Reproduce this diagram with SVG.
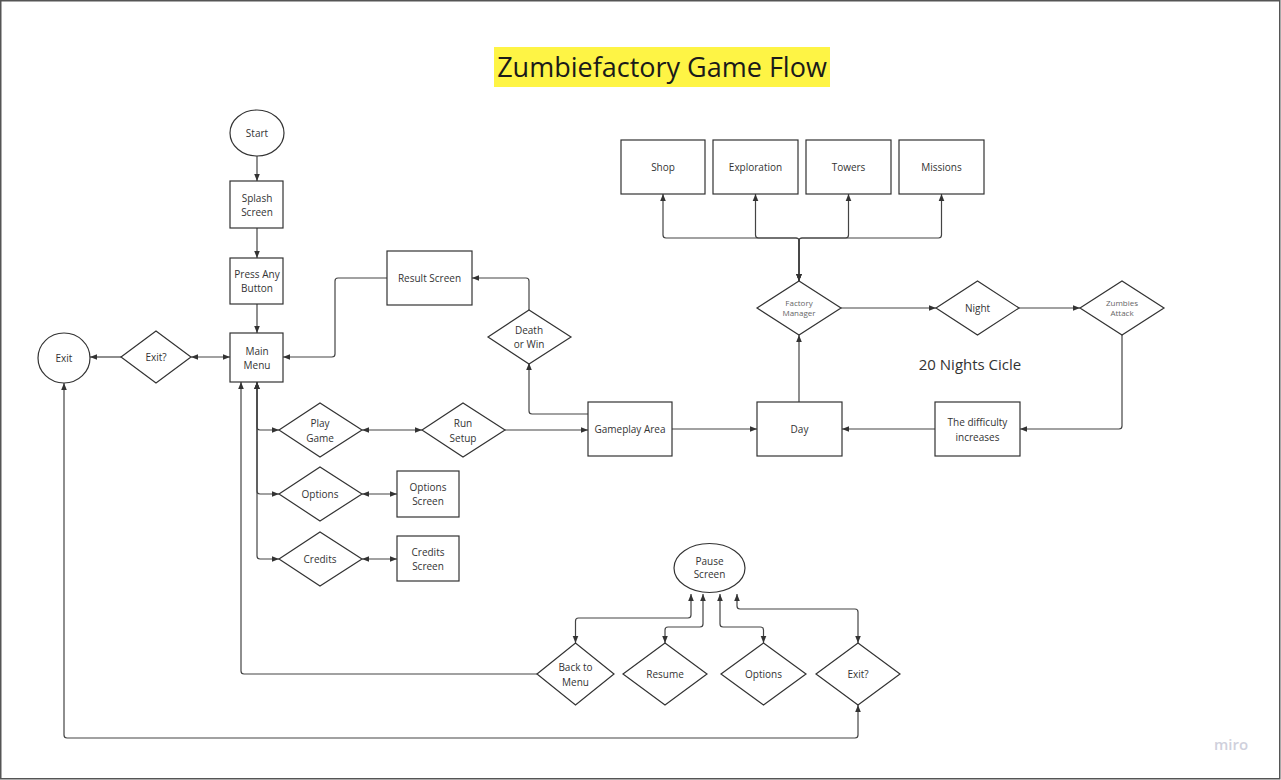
<svg xmlns="http://www.w3.org/2000/svg" width="1281" height="780" viewBox="0 0 1281 780">
<style>
.n{fill:#fff;stroke:#333;stroke-width:1.2}
.t{font-family:"Open Sans","Liberation Sans",sans-serif;font-size:10px;fill:#333;text-anchor:middle}
.s{font-family:"Open Sans","Liberation Sans",sans-serif;font-size:8px;fill:#666;text-anchor:middle}
.c path{fill:none;stroke:#444;stroke-width:1.2}
.e{marker-end:url(#ah)}
.b{marker-start:url(#ah);marker-end:url(#ah)}
</style>
<defs>
<marker id="ah" viewBox="0 0 10 10" refX="10" refY="5" markerWidth="7" markerHeight="7" markerUnits="userSpaceOnUse" orient="auto-start-reverse"><path d="M0,1 L10,5 L0,9 z" fill="#333"/></marker>
</defs>
<rect x="0" y="0" width="1281" height="780" fill="#fff"/>
<rect x="0.75" y="0.75" width="1279" height="778" fill="none" stroke="#555" stroke-width="1.5"/>
<g id="title">
<rect x="494" y="47" width="336" height="40" fill="#fef445"/>
<text x="662" y="77" font-family="'Open Sans','Liberation Sans',sans-serif" font-size="27" fill="#1a1a1a" text-anchor="middle">Zumbiefactory Game Flow</text>
</g>
<g class="c" id="connectors">
<path class="e" d="M257,156 L257,181"/>
<path class="e" d="M257,228 L257,258"/>
<path class="e" d="M257,304 L257,333"/>
<path class="e" d="M121,357 L90,357"/>
<path class="b" d="M191,357 L230,357"/>
<path class="e" d="M387,278 L338,278 Q335,278 335,281 L335,354 Q335,357 332,357 L283,357"/>
<path class="e" d="M529,310 L529,281 Q529,278 526,278 L472,278"/>
<path class="e" d="M588,414 L532,414 Q529,414 529,411 L529,363"/>
<path class="b" d="M362,430 L422,430"/>
<path class="e" d="M505,430 L588,430"/>
<path class="e" d="M672,429 L757,429"/>
<path class="e" d="M935,429 L842,429"/>
<path class="e" d="M1122,335 L1122,426 Q1122,429 1119,429 L1020,429"/>
<path class="e" d="M799,402 L799,335"/>
<path class="e" d="M841,308 L936,308"/>
<path class="e" d="M1019,308 L1080,308"/>
<path class="b" d="M799,281 L799,241 Q799,238 796,238 L666,238 Q663,238 663,235 L663,194"/>
<path class="b" d="M799,281 L799,241 Q799,238 796,238 L758.5,238 Q755.5,238 755.5,235 L755.5,194"/>
<path class="b" d="M799,281 L799,241 Q799,238 802,238 L845.5,238 Q848.5,238 848.5,235 L848.5,194"/>
<path class="b" d="M799,281 L799,241 Q799,238 802,238 L938.5,238 Q941.5,238 941.5,235 L941.5,194"/>
<path class="b" d="M257,382 L257,427 Q257,430 260,430 L279,430"/>
<path class="b" d="M257,382 L257,491 Q257,494 260,494 L279,494"/>
<path class="b" d="M257,382 L257,556 Q257,559 260,559 L279,559"/>
<path class="b" d="M362,494 L397,494"/>
<path class="b" d="M362,559 L397,559"/>
<path class="e" d="M537,674 L244,674 Q241,674 241,671 L241,382"/>
<path class="b" d="M691,594 L691,615 Q691,618 688,618 L578.5,618 Q575.5,618 575.5,621 L575.5,643"/>
<path class="b" d="M703,594 L703,624 Q703,627 700,627 L668,627 Q665,627 665,630 L665,643"/>
<path class="b" d="M720,594 L720,624 Q720,627 723,627 L760.5,627 Q763.5,627 763.5,630 L763.5,643"/>
<path class="b" d="M737,594 L737,606 Q737,609 740,609 L855,609 Q858,609 858,612 L858,643"/>
<path class="b" d="M858,705 L858,735 Q858,738 855,738 L67,738 Q64,738 64,735 L64,383"/>
</g>
<g id="start"><ellipse class="n" cx="257" cy="133" rx="27" ry="23"/><text class="t" x="257" y="136.5">Start</text></g>
<g id="splash"><rect class="n" x="230" y="181" width="53" height="47"/><text class="t" x="257" y="202">Splash</text><text class="t" x="257" y="215.5">Screen</text></g>
<g id="press"><rect class="n" x="230" y="258" width="53" height="46"/><text class="t" x="257" y="278">Press Any</text><text class="t" x="257" y="292">Button</text></g>
<g id="mainmenu"><rect class="n" x="230" y="333" width="53" height="49"/><text class="t" x="257" y="354.5">Main</text><text class="t" x="257" y="369">Menu</text></g>
<g id="exitq"><polygon class="n" points="121,357 156,331 191,357 156,383"/><text class="t" x="156" y="360.5">Exit?</text></g>
<g id="exit"><ellipse class="n" cx="64" cy="358" rx="26" ry="25"/><text class="t" x="64" y="361.5">Exit</text></g>
<g id="result"><rect class="n" x="387" y="251" width="85" height="54"/><text class="t" x="429.5" y="281.5">Result Screen</text></g>
<g id="death"><polygon class="n" points="488,337 529,310 571,337 529,364"/><text class="t" x="529" y="334">Death</text><text class="t" x="529" y="348">or Win</text></g>
<g id="play"><polygon class="n" points="279,430 320,403 362,430 320,457"/><text class="t" x="320" y="427">Play</text><text class="t" x="320" y="441.5">Game</text></g>
<g id="runsetup"><polygon class="n" points="422,430 463,403 505,430 463,457"/><text class="t" x="463" y="427">Run</text><text class="t" x="463" y="441.5">Setup</text></g>
<g id="gameplay"><rect class="n" x="588" y="402" width="84" height="54"/><text class="t" x="630" y="432.5">Gameplay Area</text></g>
<g id="day"><rect class="n" x="757" y="402" width="85" height="54"/><text class="t" x="799.5" y="432.5">Day</text></g>
<g id="difficulty"><rect class="n" x="935" y="402" width="85" height="54"/><text class="t" x="977.5" y="426">The difficulty</text><text class="t" x="977.5" y="440.5">increases</text></g>
<g id="zumbies"><polygon class="n" points="1080,308 1122,281 1164,308 1122,335"/><text class="s" x="1122" y="306">Zumbies</text><text class="s" x="1122" y="316">Attack</text></g>
<g id="night"><polygon class="n" points="936,308 977.5,281 1019,308 977.5,335"/><text class="t" x="977.5" y="311.5">Night</text></g>
<g id="factory"><polygon class="n" points="757,308 799,281 841,308 799,335"/><text class="s" x="799" y="306">Factory</text><text class="s" x="799" y="316">Manager</text></g>
<g id="cycle"><text x="970" y="370" font-family="'Open Sans','Liberation Sans',sans-serif" font-size="15" fill="#333" text-anchor="middle">20 Nights Cicle</text></g>
<g id="shop"><rect class="n" x="621" y="140" width="84" height="54"/><text class="t" x="663" y="170.5">Shop</text></g>
<g id="exploration"><rect class="n" x="713" y="140" width="85" height="54"/><text class="t" x="755.5" y="170.5">Exploration</text></g>
<g id="towers"><rect class="n" x="806" y="140" width="85" height="54"/><text class="t" x="848.5" y="170.5">Towers</text></g>
<g id="missions"><rect class="n" x="899" y="140" width="85" height="54"/><text class="t" x="941.5" y="170.5">Missions</text></g>
<g id="options"><polygon class="n" points="279,494 320,467 362,494 320,521"/><text class="t" x="320" y="497.5">Options</text></g>
<g id="optscreen"><rect class="n" x="397" y="471" width="62" height="46"/><text class="t" x="428" y="491">Options</text><text class="t" x="428" y="505">Screen</text></g>
<g id="credits"><polygon class="n" points="279,559 320,532 362,559 320,586"/><text class="t" x="320" y="562.5">Credits</text></g>
<g id="credscreen"><rect class="n" x="397" y="536" width="62" height="45"/><text class="t" x="428" y="556">Credits</text><text class="t" x="428" y="570">Screen</text></g>
<g id="pause"><ellipse class="n" cx="709.5" cy="568" rx="35.5" ry="24.5"/><text class="t" x="709.5" y="564.5">Pause</text><text class="t" x="709.5" y="578">Screen</text></g>
<g id="backmenu"><polygon class="n" points="537,674 575.5,643 614,674 575.5,705"/><text class="t" x="575.5" y="671">Back to</text><text class="t" x="575.5" y="685.5">Menu</text></g>
<g id="resume"><polygon class="n" points="623,674 665,643 707,674 665,705"/><text class="t" x="665" y="677.5">Resume</text></g>
<g id="poptions"><polygon class="n" points="721,674 763.5,643 806,674 763.5,705"/><text class="t" x="763.5" y="677.5">Options</text></g>
<g id="pexit"><polygon class="n" points="816,674 858,643 900,674 858,705"/><text class="t" x="858" y="677.5">Exit?</text></g>
<text x="1231" y="750" font-family="'Open Sans','Liberation Sans',sans-serif" font-size="15" font-weight="600" fill="#cfd0dc" text-anchor="middle">miro</text>
</svg>
